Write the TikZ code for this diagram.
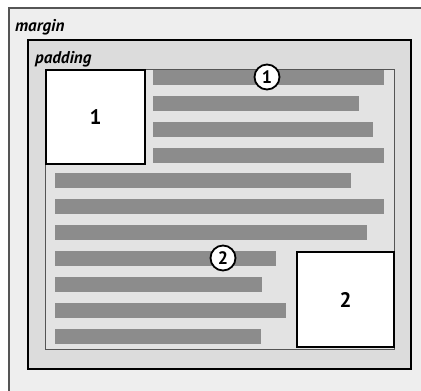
\documentclass[tikz,border=0pt]{standalone}
\usepackage{fontspec}
\setmainfont{PT Sans}
\usetikzlibrary{positioning}
\definecolor{paper}{HTML}{EEEEEE}
\definecolor{pad}{HTML}{DCDCDC}
\definecolor{inkbar}{HTML}{8C8C8C}
\definecolor{rim}{HTML}{555555}
\tikzset{
  floatbox/.style={draw=black,line width=2.2pt,fill=white,anchor=north west,inner sep=0pt,
                   minimum width=99pt,minimum height=94pt,font=\fontsize{21}{21}\selectfont\bfseries},
  textbar/.style={fill=inkbar},
  tag/.style={anchor=base west,inner sep=0pt,font=\fontsize{17}{17}\selectfont\bfseries\itshape},
  callout/.style={circle,draw=black,line width=1.8pt,fill=white,inner sep=0pt,
                  minimum size=25pt,font=\fontsize{18}{18}\selectfont\bfseries}
}

\begin{document}
\begin{tikzpicture}[x=1pt,y=-1pt]
    \useasboundingbox (0,0) rectangle (421,391);
    % margin
    \fill[paper] (9,8) rectangle (421,391);
    \draw[rim,line width=1.3pt] (9,391) -- (9,8) -- (421,8);
    \node[tag] (marginlbl) at (15,31) {margin};
    % border and padding
    \draw[line width=2pt,fill=pad] (28,40) rectangle (411,369);
    \node[tag] (paddinglbl) at (35,63) {padding};
    % content
    \draw[rim,line width=0.8pt,fill=pad!80!white] (45,69) rectangle (394,349);
    \foreach \y/\xa/\xb in {70/153/384,96/153/359,122/153/373,148/153/384,
                            173/55/351,199/55/384,225/55/367,251/55/276,
                            277/55/262,303/55/286,329/55/261}
      \fill[textbar] (\xa,\y) rectangle (\xb,\y+15);
    % floats
    \node[floatbox] (float1) at (45,69) {1};
    \node[floatbox,minimum width=97pt,minimum height=95pt] (float2) at (296,251) {2};
    \node[callout] (mark1) at (267,77) {1};
    \node[callout] (mark2) at (223,258) {2};
  \end{tikzpicture}
\end{document}
